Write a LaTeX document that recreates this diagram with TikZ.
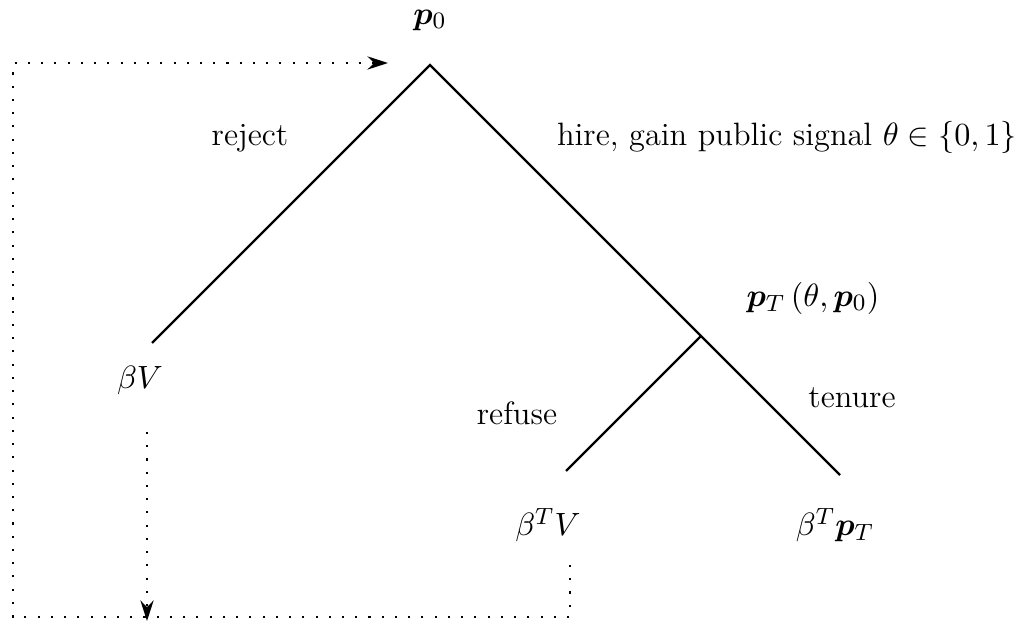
\documentclass[tikz,border=0pt]{standalone}
\usepackage{amsmath,bm}
\usetikzlibrary{arrows.meta}
\begin{document}
\begin{tikzpicture}[x=0.34pt,y=-0.34pt,
  lbl/.style={inner sep=0pt,anchor=center,font=\fontsize{11}{13}\selectfont},
  branch/.style={line width=0.75pt},
  flow/.style={dash pattern=on 0.7pt off 3.8pt,line width=0.7pt},
  tip/.style={-{Stealth[length=7pt,width=4.5pt]}}]
\useasboundingbox (0,0) rectangle (1034,626);
\coordinate (top) at (430,65);
\coordinate (lleaf) at (152,343);
\coordinate (rleaf) at (840,475);
\coordinate (mid) at (701,336);
\coordinate (bleaf) at (566,471);
\draw[branch] (lleaf) -- (top) -- (rleaf);
\draw[branch] (mid) -- (bleaf);
\node[lbl] (p0) at (430,20) {$\bm{p}_0$};
\node[lbl] (rej) at (250,138) {reject};
\node[lbl] (hire) at (787,137) {hire, gain public signal $\theta\in\{0,1\}$};
\node[lbl] (bV) at (140,380) {$\beta V$};
\node[lbl] (pT) at (813,298) {$\bm{p}_T\left(\theta,\bm{p}_0\right)$};
\node[lbl] (ref) at (517,413) {refuse};
\node[lbl] (ten) at (852,398) {tenure};
\node[lbl] (bTV) at (548,525) {$\beta^T V$};
\node[lbl] (bTp) at (835,525) {$\beta^T \bm{p}_T$};
\coordinate (a1) at (147,432);
\coordinate (a2) at (147,621);
\coordinate (c1) at (570,565);
\coordinate (c2) at (570,617);
\coordinate (c3) at (13,617);
\coordinate (c4) at (13,63);
\coordinate (c5) at (388,63);
\draw[flow,tip] (a1) -- (a2);
\draw[flow,tip] (c1) -- (c2) -- (c3) -- (c4) -- (c5);
\end{tikzpicture}
\end{document}
